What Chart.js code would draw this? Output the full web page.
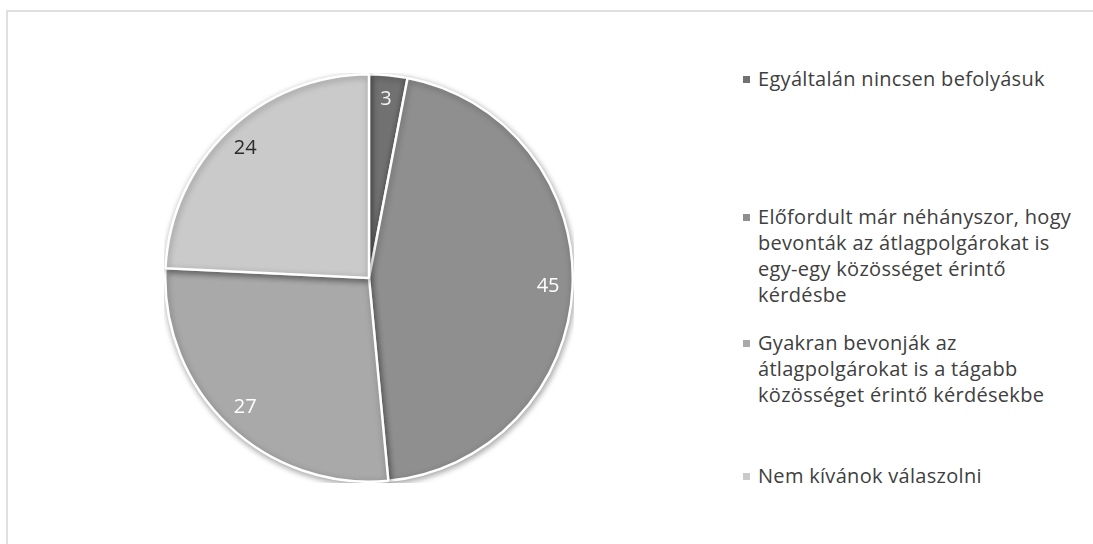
<!DOCTYPE html>
<html>
<head>
<meta charset="utf-8">
<script src="https://cdn.jsdelivr.net/npm/chart.js@4.4.1/dist/chart.umd.min.js"></script>
<style>
  html, body { margin: 0; padding: 0; background: #ffffff; }
  body { width: 1093px; height: 544px; position: relative; overflow: hidden; font-family: "Open Sans", "DejaVu Sans", sans-serif; }
  #frame { position: absolute; left: 6px; top: 10px; width: 1100px; height: 560px; border-top: 2px solid #e0e0e0; border-left: 2px solid #e0e0e0; }
  #pieBox { position: absolute; left: 164px; top: 73px; width: 410px; height: 410px; }
  .leg { position: absolute; left: 758px; color: #404040; font-size: 20px; letter-spacing: 0.3px; line-height: 26px; white-space: nowrap; }
  .leg .mk { position: absolute; left: -15px; top: 10px; width: 7px; height: 7px; }
</style>
</head>
<body>
<div id="frame"></div>
<div id="pieBox"><canvas id="c"></canvas></div>
<div id="legend"></div>
<script>
const categories = [
  "Egyáltalán nincsen befolyásuk",
  "Előfordult már néhányszor, hogy bevonták az átlagpolgárokat is egy-egy közösséget érintő kérdésbe",
  "Gyakran bevonják az átlagpolgárokat is a tágabb közösséget érintő kérdésekbe",
  "Nem kívánok válaszolni"
];
const legendLines = [
  ["Egyáltalán nincsen befolyásuk"],
  ["Előfordult már néhányszor, hogy", "bevonták az átlagpolgárokat is", "egy-egy közösséget érintő", "kérdésbe"],
  ["Gyakran bevonják az", "átlagpolgárokat is a tágabb", "közösséget érintő kérdésekbe"],
  ["Nem kívánok válaszolni"]
];
const values = [3, 45, 27, 24];
const colors = ["#717171", "#8f8f8f", "#a9a9a9", "#cacaca"];
const labelColors = ["#f2f2f2", "#ffffff", "#ffffff", "#2a2a2a"];
const legendTops = [66, 204, 330, 463];

// HTML legend
const legendEl = document.getElementById('legend');
legendLines.forEach((lines, i) => {
  const d = document.createElement('div');
  d.className = 'leg';
  d.style.top = legendTops[i] + 'px';
  d.innerHTML = '<span class="mk" style="background:' + colors[i] + '"></span>' + lines.join('<br>');
  legendEl.appendChild(d);
});

const valueLabels = {
  id: 'valueLabels',
  afterDatasetsDraw(chart) {
    const ctx = chart.ctx;
    const meta = chart.getDatasetMeta(0);
    ctx.save();
    ctx.font = '20px "Open Sans", sans-serif';
    ctx.textAlign = 'center';
    ctx.textBaseline = 'middle';
    meta.data.forEach((arc, i) => {
      const p = arc.getProps(['x', 'y', 'startAngle', 'endAngle', 'outerRadius']);
      const mid = (p.startAngle + p.endAngle) / 2;
      const r = p.outerRadius * 0.88;
      ctx.fillStyle = labelColors[i];
      ctx.fillText(String(values[i]), p.x + Math.cos(mid) * r, p.y + Math.sin(mid) * r);
    });
    ctx.restore();
  }
};

const shadow = {
  id: 'shadow',
  beforeDatasetsDraw(chart) {
    const ctx = chart.ctx;
    ctx.save();
    ctx.shadowColor = 'rgba(0,0,0,0.35)';
    ctx.shadowBlur = 6;
    ctx.shadowOffsetX = 1;
    ctx.shadowOffsetY = 2;
  },
  afterDatasetsDraw(chart) {
    chart.ctx.restore();
  }
};

new Chart(document.getElementById('c'), {
  type: 'pie',
  data: {
    labels: categories,
    datasets: [{
      data: values,
      backgroundColor: colors,
      borderColor: '#ffffff',
      borderWidth: 2.5
    }]
  },
  options: {
    responsive: true,
    maintainAspectRatio: false,
    animation: false,
    rotation: 0,
    layout: { padding: 0 },
    plugins: {
      legend: { display: false },
      tooltip: { enabled: false }
    }
  },
  plugins: [shadow, valueLabels]
});
</script>
</body>
</html>
